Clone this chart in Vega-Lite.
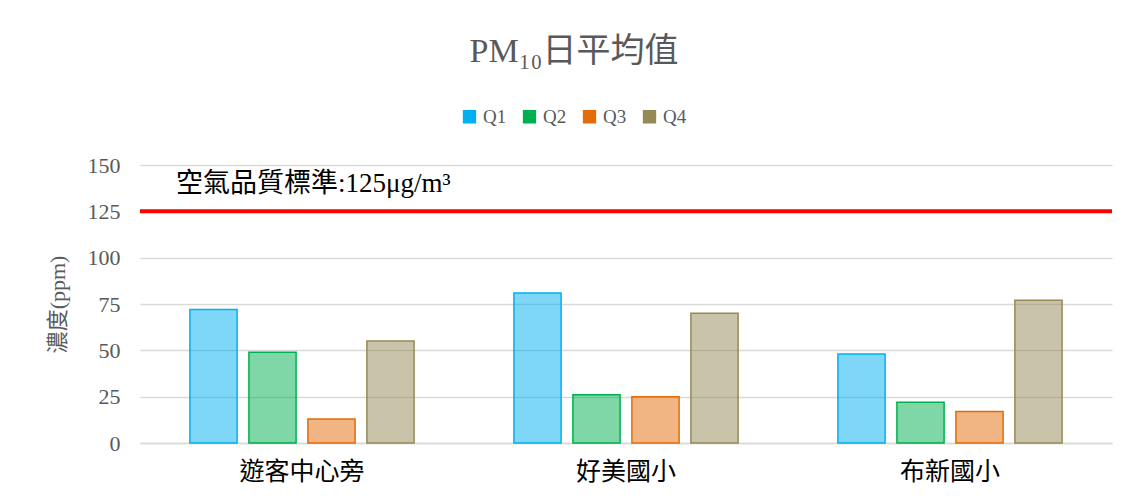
{
  "$schema": "https://vega.github.io/schema/vega-lite/v6.json",
  "width": 972,
  "height": 278,
  "autosize": {"type": "none"},
  "padding": {"left": 140, "top": 165, "right": 24, "bottom": 58},
  "background": "white",
  "config": {"view": {"stroke": null}},
  "title": {
    "text": "PM₁₀日平均值",
    "fontSize": 34,
    "font": "Liberation Serif, Noto Sans CJK TC",
    "fontWeight": "normal",
    "color": "#595959",
    "frame": "group",
    "anchor": "middle",
    "offset": 38,
    "dx": -52
  },
  "datasets": {
    "bars": [
      {"site": "遊客中心旁", "q": "Q1", "value": 72},
      {"site": "遊客中心旁", "q": "Q2", "value": 49},
      {"site": "遊客中心旁", "q": "Q3", "value": 13},
      {"site": "遊客中心旁", "q": "Q4", "value": 55},
      {"site": "好美國小", "q": "Q1", "value": 81},
      {"site": "好美國小", "q": "Q2", "value": 26},
      {"site": "好美國小", "q": "Q3", "value": 25},
      {"site": "好美國小", "q": "Q4", "value": 70},
      {"site": "布新國小", "q": "Q1", "value": 48},
      {"site": "布新國小", "q": "Q2", "value": 22},
      {"site": "布新國小", "q": "Q3", "value": 17},
      {"site": "布新國小", "q": "Q4", "value": 77}
    ],
    "std": [
      {"label": "空氣品質標準:125μg/m³", "value": 125, "ypos": 140, "site": "遊客中心旁"}
    ]
  },
  "layer": [
    {
      "data": {"name": "bars"},
      "mark": {"type": "bar", "fillOpacity": 0.5, "strokeWidth": 1.5},
      "encoding": {
        "x": {
          "field": "site",
          "type": "nominal",
          "sort": ["遊客中心旁", "好美國小", "布新國小"],
          "scale": {"paddingInner": 0, "paddingOuter": 0},
          "axis": {
            "title": null,
            "labelAngle": 0,
            "labelFontSize": 25,
            "labelFont": "Noto Sans CJK TC",
            "labelColor": "#000000",
            "labelPadding": 16,
            "ticks": false,
            "domainColor": "#D9D9D9",
            "domainWidth": 1.5,
            "grid": false
          }
        },
        "xOffset": {
          "field": "q",
          "type": "nominal",
          "sort": ["Q1", "Q2", "Q3", "Q4"],
          "scale": {"paddingInner": 0.2, "paddingOuter": 0.846}
        },
        "y": {
          "field": "value",
          "type": "quantitative",
          "scale": {"domain": [0, 150], "nice": false},
          "axis": {
            "values": [0, 25, 50, 75, 100, 125, 150],
            "title": "濃度(ppm)",
            "titleFont": "Liberation Serif, Noto Sans CJK TC",
            "titleFontSize": 22,
            "titleFontWeight": "normal",
            "titleColor": "#595959",
            "titlePadding": 18,
            "labelFont": "Liberation Serif",
            "labelFontSize": 22,
            "labelColor": "#595959",
            "labelPadding": 20,
            "ticks": false,
            "domain": false,
            "gridColor": "#D9D9D9",
            "gridWidth": 1.5
          }
        },
        "color": {
          "field": "q",
          "type": "nominal",
          "scale": {"domain": ["Q1", "Q2", "Q3", "Q4"], "range": ["#00B0F0", "#00B050", "#E36C09", "#948A54"]},
          "legend": {
            "title": null,
            "orient": "none",
            "direction": "horizontal",
            "legendX": 320,
            "legendY": -58,
            "labelFont": "Liberation Serif",
            "labelFontSize": 19,
            "labelColor": "#595959",
            "symbolType": "square",
            "symbolSize": 140,
            "symbolOpacity": 1,
            "labelOffset": 4,
            "columnPadding": 13
          }
        },
        "stroke": {
          "field": "q",
          "type": "nominal",
          "scale": {"domain": ["Q1", "Q2", "Q3", "Q4"], "range": ["#00B0F0", "#00B050", "#E36C09", "#948A54"]},
          "legend": null
        }
      }
    },
    {
      "data": {"name": "std"},
      "mark": {"type": "rule", "color": "#FF0000", "strokeWidth": 4},
      "encoding": {"y": {"field": "value", "type": "quantitative"}}
    },
    {
      "data": {"name": "std"},
      "mark": {
        "type": "text",
        "align": "left",
        "baseline": "middle",
        "fontSize": 27,
        "font": "Liberation Serif, Noto Sans CJK TC",
        "color": "#000000",
        "dx": -126
      },
      "encoding": {
        "x": {"field": "site", "type": "nominal", "sort": ["遊客中心旁", "好美國小", "布新國小"]},
        "y": {"field": "ypos", "type": "quantitative"},
        "text": {"field": "label"}
      }
    }
  ]
}
